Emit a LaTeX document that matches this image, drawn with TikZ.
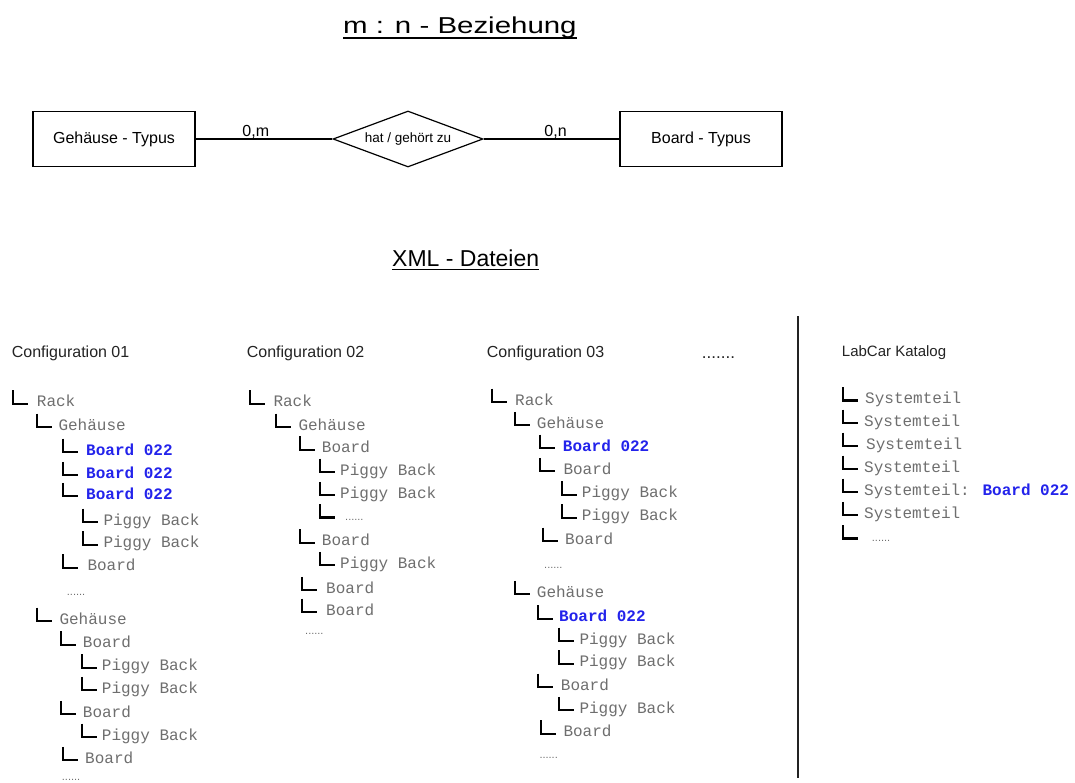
\documentclass[tikz,border=0pt]{standalone}
\usepackage{fontspec}
\setmainfont{Liberation Sans}
\newfontfamily\monof{Liberation Mono}
\usetikzlibrary{shapes.geometric}

\definecolor{itemgray}{RGB}{110,110,110}
\definecolor{hitblue}{RGB}{35,35,235}
\definecolor{headdark}{RGB}{35,35,35}

% tree entry: name, x of elbow, x of text, baseline, style, text
\newcommand{\titem}[6]{%
  \node[#5] (#1) at (#3,#4) {#6};
  \draw[elbow] (#2,#4-16.5) |- (#2+15,#4-3);
}

\begin{document}
\begin{tikzpicture}[x=1pt,y=-1pt,
  entity/.style={draw, line width=1.2pt, minimum width=162pt, minimum height=55pt,
    inner sep=0pt, font=\fontsize{16}{19}\selectfont},
  relation/.style={draw, diamond, line width=1.2pt, aspect=2.68, minimum width=150pt,
    minimum height=56pt, inner sep=0pt, font=\fontsize{13.5}{16}\selectfont},
  card/.style={font=\fontsize{16}{19}\selectfont, anchor=base, inner sep=0pt},
  heading/.style={anchor=base west, inner sep=0pt, text=headdark, font=\fontsize{16}{19}\selectfont},
  item/.style={anchor=base west, inner sep=0pt, text=itemgray, font=\monof\fontsize{16}{19}\selectfont},
  hit/.style={anchor=base west, inner sep=0pt, text=hitblue, font=\monof\bfseries\fontsize{16}{19}\selectfont},
  more/.style={anchor=base west, inner sep=0pt, text=itemgray, font=\fontsize{11}{13}\selectfont},
  elbow/.style={line width=2.2pt, black},
  uline/.style={line width=1.6pt, black}
]
\useasboundingbox (0,0) rectangle (1075,783);

% ---- m:n relationship ----
\node[anchor=base west, inner sep=0pt] (title) at (343,34)
  {\scalebox{1.28}[1]{\fontsize{23}{27}\selectfont m : n - Beziehung}};
\draw[uline] ([yshift=-4pt]title.base west) -- ([yshift=-4pt]title.base east);

\node[entity] (gt) at (114,139) {Gehäuse - Typus};
\node[relation] (rel) at (408,139) {hat / gehört zu};
\node[entity] (bt) at (701,139) {Board - Typus};
\draw[line width=1.2pt] (gt) -- node[card, pos=0.44, yshift=2.5pt] {0,m} (rel);
\draw[line width=1.2pt] (rel) -- node[card, pos=0.53, yshift=2.5pt] {0,n} (bt);

% ---- XML files ----
\node[anchor=base west, inner sep=0pt, font=\fontsize{23}{27}\selectfont] (xml) at (392,266.7) {XML - Dateien};
\draw[uline] ([yshift=-3pt]xml.base west) -- ([yshift=-3pt]xml.base east);

\node[heading] (h1) at (11.7,357) {Configuration 01};
\node[heading] (h2) at (246.7,357) {Configuration 02};
\node[heading] (h3) at (486.7,357) {Configuration 03};
\node[heading, font=\fontsize{17}{19}\selectfont] (h4) at (701.7,358) {.......};
\node[heading, font=\fontsize{15}{18}\selectfont] (h5) at (841.7,356.7) {LabCar Katalog};

\coordinate (sepTop) at (798,316);
\coordinate (sepBot) at (798,778);
\draw[line width=1.8pt, headdark] (sepTop) -- (sepBot);

% Configuration 01
\titem{a1}{13}{36.7}{406.7}{item}{Rack}
\titem{a2}{37}{58.3}{430}{item}{Gehäuse}
\titem{a3}{63}{86}{455}{hit}{Board 022}
\titem{a4}{63}{86}{478.3}{hit}{Board 022}
\titem{a5}{63}{86}{499.3}{hit}{Board 022}
\titem{a6}{83}{103.3}{525}{item}{Piggy Back}
\titem{a7}{83}{103.3}{547.7}{item}{Piggy Back}
\titem{a8}{63}{87.3}{570.7}{item}{Board}
\node[more] (a9) at (66.7,595) {......};
\titem{a10}{37}{59.3}{624}{item}{Gehäuse}
\titem{a11}{61}{82.7}{647.7}{item}{Board}
\titem{a12}{82}{101.7}{670.7}{item}{Piggy Back}
\titem{a13}{82}{101.7}{693.3}{item}{Piggy Back}
\titem{a14}{61}{82.7}{717.3}{item}{Board}
\titem{a15}{82}{101.7}{740}{item}{Piggy Back}
\titem{a16}{62.7}{85}{763.3}{item}{Board}
\node[more] (a17) at (61.7,780.5) {......};

% Configuration 02
\titem{b1}{250}{273.3}{406.7}{item}{Rack}
\titem{b2}{276}{298.3}{430}{item}{Gehäuse}
\titem{b3}{300}{321.7}{452.7}{item}{Board}
\titem{b4}{320}{340}{475}{item}{Piggy Back}
\titem{b5}{320}{340}{498.3}{item}{Piggy Back}
\titem{b6}{320}{345}{520.5}{more}{......}
\titem{b7}{300}{321.7}{545.7}{item}{Board}
\titem{b8}{320}{340}{568.3}{item}{Piggy Back}
\titem{b9}{301.7}{326}{593.3}{item}{Board}
\titem{b10}{301.7}{326}{615}{item}{Board}
\node[more] (b11) at (305,634) {......};

% Configuration 03
\titem{c1}{491.7}{515}{405}{item}{Rack}
\titem{c2}{515}{536.7}{428.3}{item}{Gehäuse}
\titem{c3}{540}{562.7}{451}{hit}{Board 022}
\titem{c4}{540}{563.3}{474.3}{item}{Board}
\titem{c5}{561.7}{581.7}{497.7}{item}{Piggy Back}
\titem{c6}{561.7}{581.7}{520.7}{item}{Piggy Back}
\titem{c7}{543.3}{565}{544}{item}{Board}
\node[more] (c8) at (544,568) {......};
\titem{c9}{515}{536.7}{597.3}{item}{Gehäuse}
\titem{c10}{538.3}{559}{621.7}{hit}{Board 022}
\titem{c11}{559.3}{579.3}{644}{item}{Piggy Back}
\titem{c12}{559.3}{579.3}{666.7}{item}{Piggy Back}
\titem{c13}{538.3}{560.7}{690}{item}{Board}
\titem{c14}{559.3}{579.3}{713.3}{item}{Piggy Back}
\titem{c15}{541}{563.3}{736.7}{item}{Board}
\node[more] (c16) at (539.3,758) {......};

% LabCar catalogue
\titem{d1}{842.7}{865}{403.5}{item}{Systemteil}
\titem{d2}{843}{864}{426}{item}{Systemteil}
\titem{d3}{843}{866}{449}{item}{Systemteil}
\titem{d4}{843}{864}{472}{item}{Systemteil}
\titem{d5}{843}{864}{495}{item}{Systemteil: {\color{hitblue}\bfseries Board 022}}
\titem{d6}{843}{864}{518.3}{item}{Systemteil}
\titem{d7}{843}{871.7}{541.5}{more}{......}

\end{tikzpicture}
\end{document}
